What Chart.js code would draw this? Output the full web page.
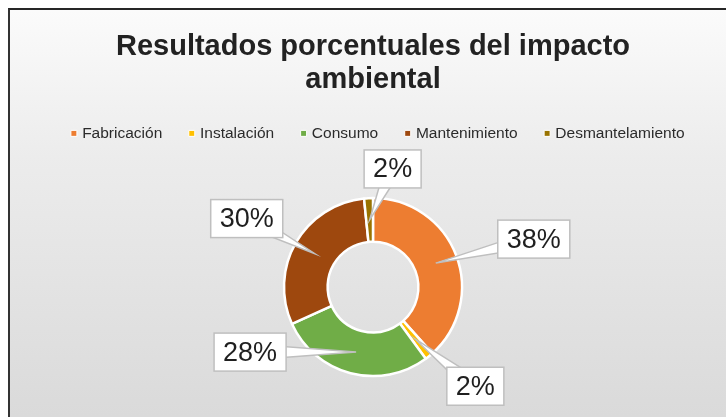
<!DOCTYPE html>
<html>
<head>
<meta charset="utf-8">
<script src="https://cdn.jsdelivr.net/npm/chart.js@4.4.1/dist/chart.umd.min.js"></script>
<style>
  html, body { margin: 0; padding: 0; background: #fff; overflow: hidden; }
  #frame {
    position: absolute; left: 8px; top: 8px;
    width: 716px; height: 420px;
    border-top: 2px solid #262626; border-left: 2px solid #333;
    background: linear-gradient(to bottom, #fbfbfb 0%, #ececec 35%, #d9d9d9 100%);
  }
</style>
</head>
<body>
<div id="frame"><canvas id="chart-impacto"></canvas></div>
<script>
const TITLE_LINES = ['Resultados porcentuales del impacto', 'ambiental'];
const STAGES = ['Fabricación', 'Instalación', 'Consumo', 'Mantenimiento', 'Desmantelamiento'];
const SHARES = [38.4, 1.5, 28.3, 30.2, 1.6];
const STAGE_COLORS = ['#ED7D31', '#FFC000', '#70AD47', '#9E480E', '#997300'];

// where each callout box sits, relative to the point it marks
const CALLOUT_OFFSETS = [[98, -24], [60, 47], [-106, 0], [-68, -35], [23, -51]];
const FONT = '"Liberation Sans", Arial, sans-serif';

const calloutPlugin = {
  id: 'callouts',
  afterDatasetsDraw(chart) {
    const ctx = chart.ctx;
    const meta = chart.getDatasetMeta(0);
    const total = SHARES.reduce((a, b) => a + b, 0);
    ctx.save();
    ctx.font = '27px ' + FONT;
    meta.data.forEach((arc, i) => {
      const p = arc.getProps(['x', 'y', 'startAngle', 'endAngle', 'innerRadius', 'outerRadius'], true);
      const mid = (p.startAngle + p.endAngle) / 2;
      const r = (p.innerRadius + p.outerRadius) / 2;
      const tx = p.x + Math.cos(mid) * r;
      const ty = p.y + Math.sin(mid) * r;
      const bx = tx + CALLOUT_OFFSETS[i][0];
      const by = ty + CALLOUT_OFFSETS[i][1];
      const text = Math.round(SHARES[i] / total * 100) + '%';
      const w = ctx.measureText(text).width + 18;
      const h = 38;

      const ang = Math.atan2(ty - by, tx - bx);
      const nx = -Math.sin(ang) * 8, ny = Math.cos(ang) * 8;
      ctx.beginPath();
      ctx.moveTo(bx + nx, by + ny);
      ctx.lineTo(tx, ty);
      ctx.lineTo(bx - nx, by - ny);
      ctx.closePath();
      ctx.fillStyle = '#fff';
      ctx.fill();
      ctx.strokeStyle = '#bfbfbf';
      ctx.lineWidth = 1.5;
      ctx.stroke();

      ctx.fillRect(bx - w / 2, by - h / 2, w, h);
      ctx.strokeRect(bx - w / 2, by - h / 2, w, h);
      ctx.fillStyle = '#1f1f1f';
      ctx.textAlign = 'center';
      ctx.textBaseline = 'middle';
      ctx.fillText(text, bx, by + 1);
    });
    ctx.restore();
  },
};

// nudge the legend row sideways, Excel centres it a bit differently
const legendShift = {
  id: 'legendShift',
  afterLayout(chart) {
    if (chart.legend) {
      chart.legend.left += 6;
      chart.legend.right += 6;
    }
  },
};

const baseLabels = Chart.overrides.doughnut.plugins.legend.labels.generateLabels;

new Chart(document.getElementById('chart-impacto'), {
  type: 'doughnut',
  data: {
    labels: STAGES,
    datasets: [{
      data: SHARES,
      backgroundColor: STAGE_COLORS,
      borderColor: '#ffffff',
      borderWidth: 2.5,
    }],
  },
  options: {
    responsive: true,
    maintainAspectRatio: false,
    animation: false,
    radius: 89,
    cutout: '51%',
    layout: { padding: { left: 10, right: 0, top: 0, bottom: 7 } },
    plugins: {
      title: {
        display: true,
        text: TITLE_LINES,
        color: '#222222',
        font: { family: FONT, size: 29, weight: 'bold', lineHeight: 1.14 },
        padding: { top: 20.5, bottom: 0 },
      },
      legend: {
        position: 'top',
        labels: {
          usePointStyle: true,
          pointStyle: 'rect',
          boxWidth: 1,
          boxHeight: 6,
          padding: 29,
          color: '#2b2b2b',
          font: { family: FONT, size: 15.5 },
          generateLabels: chart => baseLabels(chart).map(l => ({ ...l, lineWidth: 1 })),
        },
      },
      tooltip: { enabled: false },
    },
  },
  plugins: [calloutPlugin, legendShift],
});
</script>
</body>
</html>
